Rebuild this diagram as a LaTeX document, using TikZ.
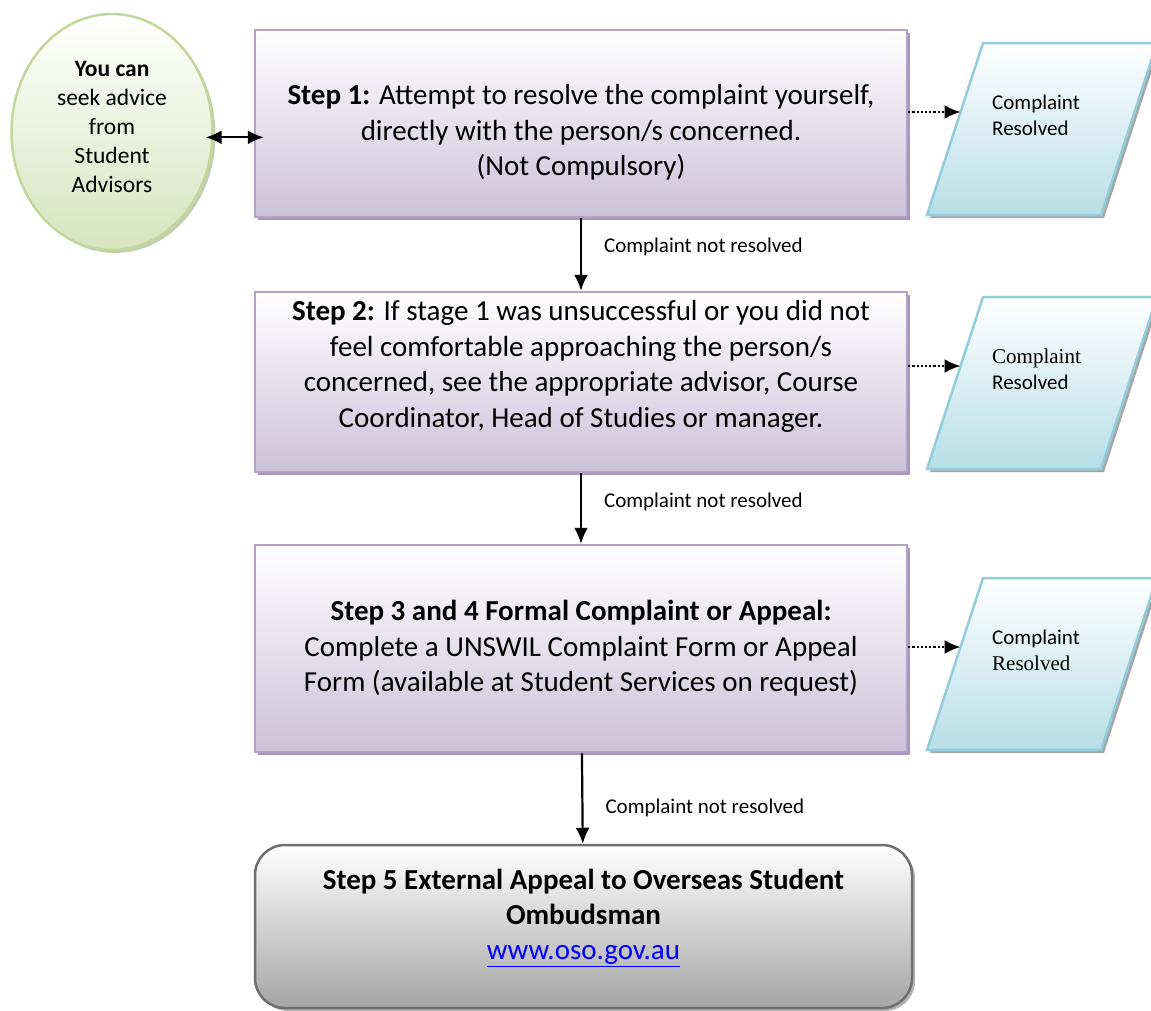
\documentclass[tikz,border=0pt]{standalone}
\usepackage{fontspec}
\setmainfont{Carlito}
\newfontfamily\tnrfont{Liberation Serif}
\usetikzlibrary{arrows.meta,shapes.geometric,shadows,calc}
\definecolor{stepfill}{HTML}{CCC1DA}
\definecolor{stepdraw}{HTML}{B3A2C7}
\definecolor{stepshade}{HTML}{A698B8}
\definecolor{advfill}{HTML}{D7E4BD}
\definecolor{advdraw}{HTML}{C3D69B}
\definecolor{resfill}{HTML}{B7DEE8}
\definecolor{resdraw}{HTML}{93CDDD}
\definecolor{extfill}{HTML}{A5A5A5}
\definecolor{extdraw}{HTML}{6F6F6F}
\definecolor{linkblue}{HTML}{0000FF}
\begin{document}
\begin{tikzpicture}[x=1pt,y=1pt,
  bighead/.tip={Latex[length=16pt,width=14pt]},
  stepbox/.style={rectangle,draw=stepdraw,line width=2.5pt,top color=white,bottom color=stepfill,
    minimum width=652,align=center,font=\fontsize{29}{35.5}\selectfont,
    drop shadow={shadow xshift=3pt,shadow yshift=-3pt,fill=stepshade,opacity=1}},
  advice/.style={ellipse,draw=advdraw,line width=2.5pt,top color=white,bottom color=advfill,
    minimum width=201,minimum height=236,inner sep=0pt,align=center,text depth=10pt,
    font=\fontsize{23.5}{29}\selectfont,
    drop shadow={shadow xshift=3pt,shadow yshift=-3pt,fill=advdraw!80!black!60,opacity=1}},
  resolved/.style={draw=resdraw,line width=2.5pt,top color=white,bottom color=resfill,
    drop shadow={shadow xshift=3pt,shadow yshift=-3pt,fill=gray!70,opacity=1}},
  restext/.style={anchor=west,inner sep=0pt,align=left,font=\fontsize{21}{26}\selectfont},
  external/.style={rectangle,rounded corners=30pt,draw=extdraw,line width=2.5pt,top color=white,bottom color=extfill,
    minimum width=657,minimum height=163,align=center,font=\fontsize{29}{35}\selectfont,
    drop shadow={shadow xshift=3pt,shadow yshift=-3pt,fill=gray!60,opacity=1}},
  flow/.style={-bighead,line width=2.2pt},
  toresolved/.style={-bighead,line width=2.2pt,dotted},
  notres/.style={right=22pt,inner sep=0pt,font=\fontsize{21}{26}\selectfont}]
\useasboundingbox (0,0) rectangle (1151,-1010);
% the steps
\node[stepbox,minimum height=187] (s1) at (581,-123.5)
  {\raisebox{-15.75pt}[0pt][0pt]{\begin{tabular}{@{}c@{}}\textbf{Step 1:} Attempt to resolve the complaint yourself,\\directly with the person/s concerned.\\(Not Compulsory)\end{tabular}}};
\node[stepbox,minimum height=180,text depth=36pt] (s2) at (581,-382)
  {\textbf{Step 2:} If stage 1 was unsuccessful or you did not\\feel comfortable approaching the person/s\\concerned, see the appropriate advisor, Course\\Coordinator, Head of Studies or manager.};
\node[stepbox,minimum height=207] (s3) at (581,-648.5)
  {\textbf{Step 3 and 4 Formal Complaint or Appeal:}\\Complete a UNSWIL Complaint Form or Appeal\\Form (available at Student Services on request)};
\node[external,text depth=24pt] (s5) at (583.5,-926.5)
  {\textbf{Step 5 External Appeal to Overseas Student}\\\textbf{Ombudsman}\\\textcolor{linkblue}{\underline{www.oso.gov.au}}};
% advice
\node[advice] (adv) at (112,-132) {\textbf{You can}\\seek advice\\from\\Student\\Advisors};
% outcomes: parallelograms, then their text
\coordinate (c1) at (1042,-129);
\coordinate (c2) at (1042,-383);
\coordinate (c3) at (1042,-664);
\foreach \c in {c1,c2,c3}
  \draw[resolved] (\c) ++(-115,-86) -- ++(174,0) -- ++(56,172) -- ++(-174,0) -- cycle;
\node[restext] (r1) at ($(c1)+(-50,14)$) {Complaint\\Resolved};
\node[restext] (r2) at ($(c2)+(-50,14)$) {{\tnrfont Complaint}\\Resolved};
\node[restext] (r3) at ($(c3)+(-50,14)$) {Complaint\\{\tnrfont Resolved}};
\coordinate (e1) at ($(c1)+(-81.5,17)$);
\coordinate (e2) at ($(c2)+(-81.5,17)$);
\coordinate (e3) at ($(c3)+(-81.5,17)$);
% connectors
\draw[bighead-bighead,line width=2.2pt,shorten <=-8pt,shorten >=-10pt]
  (adv.-3) -- (adv.-3 -| s1.west);
\draw[flow] (s1) -- node[notres,pos=0.4] {Complaint not resolved} (s2);
\draw[flow] (s2) -- node[notres,pos=0.4] {Complaint not resolved} (s3);
\draw[flow] (s3) -- node[notres,pos=0.6] {Complaint not resolved} (s5);
\draw[toresolved] (s1.east |- e1) -- (e1);
\draw[toresolved] (s2.east |- e2) -- (e2);
\draw[toresolved] (s3.east |- e3) -- (e3);
\end{tikzpicture}
\end{document}
